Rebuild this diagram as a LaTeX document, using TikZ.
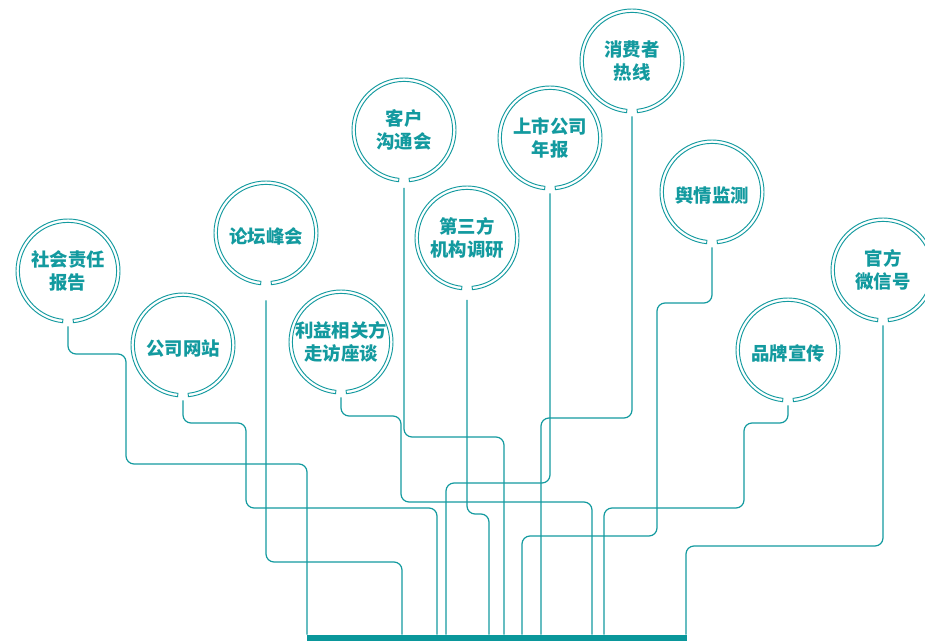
\documentclass[tikz,border=0pt]{standalone}
\usepackage{fontspec}
\usepackage{tikz}
\usetikzlibrary{calc}
\newfontfamily\cjk{Noto Sans CJK SC}
\definecolor{tealline}{HTML}{139A9F}
\definecolor{tealbar}{HTML}{0A979B}

\begin{document}
\begin{tikzpicture}
   [x=0.75pt, y=-0.75pt,
   topic/.style={circle, inner sep=0pt, minimum size=82.5pt, align=center, fill=white, text=tealline,
      font=\cjk\bfseries\fontsize{13.8}{16.7}\selectfont,
      execute at begin node={\rule{0pt}{17pt}},
      path picture={\draw[ring] ($(path picture bounding box.center)+(96:52)$) arc (96:444:52)
         -- ($(path picture bounding box.center)+(84:48.6)$) arc (444:96:48.6) -- cycle;}},
   ring/.style={draw=tealline, fill=white, line width=0.7pt},
   wire/.style={draw=tealline, line width=0.9pt, rounded corners=6pt},
   basebar/.style={rectangle, fill=tealbar, inner sep=0pt, minimum width=285pt, minimum height=4.5pt},
   ]
 \useasboundingbox (0,0) rectangle (925,641);
 \clip (0,0) rectangle (925,641);
 \node at (497,638) [basebar] (bar) {};
 \node at (68,271)  [topic] (csr)     {社会责任\\报告};
 \node at (183,345) [topic] (site)    {公司网站};
 \node at (266,233) [topic] (forum)   {论坛峰会};
 \node at (341,342) [topic] (visit)   {利益相关方\\走访座谈};
 \node at (404,130) [topic] (client)  {客户\\沟通会};
 \node at (467,238) [topic] (third)   {第三方\\机构调研};
 \node at (550,138) [topic] (annual)  {上市公司\\年报};
 \node at (632,61)  [topic] (hotline) {消费者\\热线};
 \node at (712,192) [topic] (opinion) {舆情监测};
 \node at (788,350) [topic] (brand)   {品牌宣传};
 \node at (883,270) [topic] (wechat)  {官方\\微信号};
 %\node at (497,600) {};
 \draw[wire] (csr.south) |- (126,354) |- (307,464) -- (307,0 |- bar.north);
 \draw[wire] (site.south) |- (246,423) |- (437,508) -- (437,0 |- bar.north);
 \draw[wire] ([yshift=-9pt]forum.south) |- (402,562) -- (402,0 |- bar.north);
 \draw[wire] (visit.south) |- (401,416) |- (592,502) -- (592,0 |- bar.north);
 \draw[wire] ([yshift=-2pt]client.south) |- (504,437) -- (504,0 |- bar.north);
 \draw[wire] ([yshift=-5pt]third.south) |- (489,514) -- (489,0 |- bar.north);
 \draw[wire] (annual.south) |- (446,483) -- (446,0 |- bar.north);
 \draw[wire] (hotline.south) |- (541,418) -- (541,0 |- bar.north);
 \draw[wire] (opinion.south) |- (657,303) |- (522,536) -- (522,0 |- bar.north);
 \draw[wire] (brand.south) |- (744,423) |- (604,508) -- (604,0 |- bar.north);
 \draw[wire] (wechat.south) |- (686,546) -- (686,0 |- bar.north);
\end{tikzpicture}
\end{document}
